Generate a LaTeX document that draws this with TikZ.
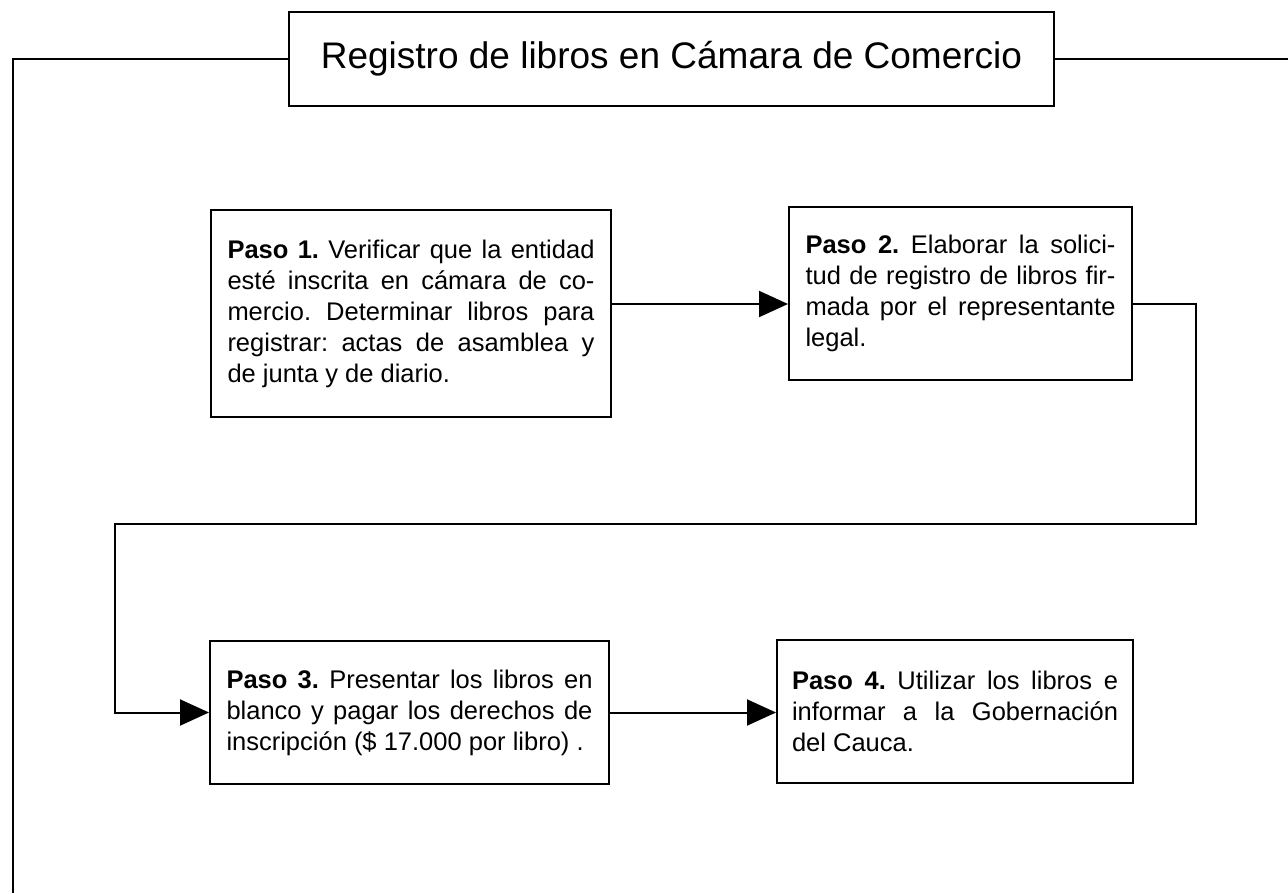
\documentclass[tikz,border=0pt]{standalone}
\usepackage{fontspec}
\setmainfont{Liberation Sans}
\usetikzlibrary{arrows.meta}
\tolerance=10000
\hyphenpenalty=10000
\frenchspacing

\begin{document}
\begin{tikzpicture}[x=1pt, y=-1pt,
        pasobox/.style={draw, line width=2pt, align=justify, inner ysep=0pt, inner xsep=16.5pt, font=\fontsize{25.5}{31}\selectfont},
        flecha/.style={line width=2pt, -{Triangle[length=29pt,width=26pt]}},
        linea/.style={line width=2pt}]
    \useasboundingbox (0,0) rectangle (1288,894);

    % titulo y marco
    \node [draw, line width=2.6pt, minimum width=765pt, minimum height=94pt, font=\fontsize{37}{44}\selectfont] (titulo) at (671.5,59) {Registro de libros en Cámara de Comercio};
    \coordinate (marcoSup) at (13,58);
    \coordinate (marcoInf) at (13,893);
    \coordinate (marcoDer) at (1288,58);
    \draw [linea] (titulo.west) -- (titulo.west -| marcoSup) -- (marcoInf);
    \draw [linea] (titulo.east) -- (titulo.east -| marcoDer);

    % pasos
    \node [pasobox, text width=367pt, minimum height=207pt] (paso1) at (411,313.5) {\textbf{Paso 1.} Verificar que la entidad\linebreak esté inscrita en cámara de co-\linebreak mercio. Determinar libros para\linebreak registrar: actas de asamblea y\linebreak de junta y de diario.};
    \node [pasobox, text width=310pt, minimum height=173pt] (paso2) at (960.5,293.5) {\textbf{Paso 2.} Elaborar la solici-\linebreak tud de registro de libros fir-\linebreak mada por el representante\linebreak legal.};
    \node [pasobox, text width=366pt, minimum height=143pt] (paso3) at (409.5,712.5) {\textbf{Paso 3.} Presentar los libros en\linebreak blanco y pagar los derechos de\linebreak inscripción (\$ 17.000 por libro) .};
    \node [pasobox, text width=326pt, inner xsep=15pt, minimum height=143pt] (paso4) at (955,711.5) {\textbf{Paso 4.} Utilizar los libros e\linebreak informar a la Gobernación\linebreak del Cauca.};

    % conectores
    \coordinate (nivel) at (0,304);
    \coordinate (giroDer) at (1196,524);
    \coordinate (giroIzq) at (115,524);
    \draw [flecha] (paso1.east |- nivel) -- (paso2.west |- nivel);
    \draw [flecha] (paso2.east |- nivel) -| (giroDer) -- (giroIzq) |- (paso3.west);
    \draw [flecha] (paso3.east) -- (paso3.east -| paso4.west);
\end{tikzpicture}
\end{document}
